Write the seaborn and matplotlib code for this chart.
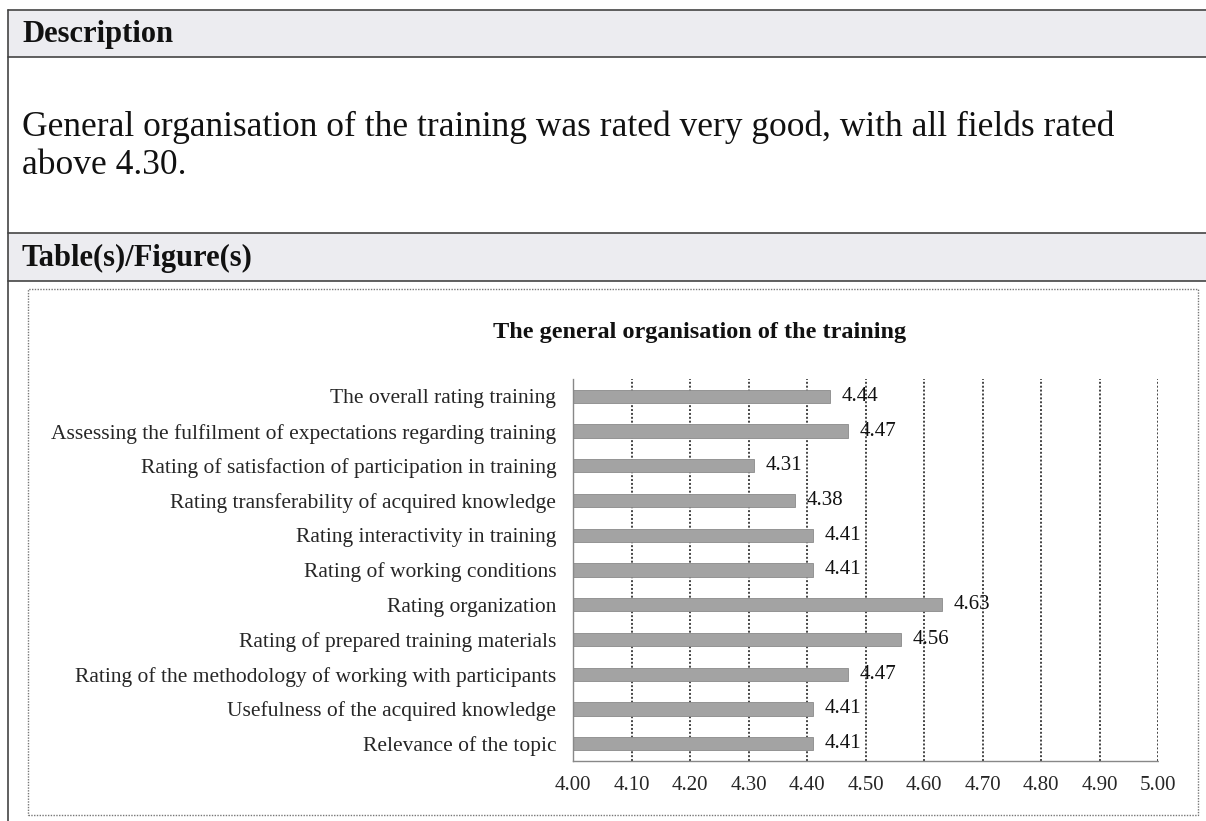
import pandas as pd
import seaborn as sns
import matplotlib
matplotlib.use("Agg")
import matplotlib.pyplot as plt
import matplotlib.ticker as ticker
from matplotlib.patches import Rectangle
from matplotlib.lines import Line2D

# data
categories = [
    "The overall rating training",
    "Assessing the fulfilment of expectations regarding training",
    "Rating of satisfaction of participation in training",
    "Rating transferability of acquired knowledge",
    "Rating interactivity in training",
    "Rating of working conditions",
    "Rating organization",
    "Rating of prepared training materials",
    "Rating of the methodology of working with participants",
    "Usefulness of the acquired knowledge",
    "Relevance of the topic",
]
scores = [4.44, 4.47, 4.31, 4.38, 4.41, 4.41, 4.63, 4.56, 4.47, 4.41, 4.41]
x_ticks = [4.00, 4.10, 4.20, 4.30, 4.40, 4.50, 4.60, 4.70, 4.80, 4.90, 5.00]

df = pd.DataFrame({"category": categories, "score": scores})

sns.set_style("white")
plt.rcParams["font.family"] = ["Liberation Serif", "DejaVu Serif"]

W, H = 1206, 821
fig = plt.figure(figsize=(W / 100, H / 100), dpi=100)


def px(x, y):
    return x / W, 1 - y / H


# document frame: header bands and borders
for top, bot, label in [(10, 57, "Description"), (233, 281, "Table(s)/Figure(s)")]:
    fig.patches.append(Rectangle(px(8, bot), (W - 8) / W, (bot - top) / H,
                                 transform=fig.transFigure, facecolor="#ececf0",
                                 edgecolor="none", zorder=0))
    for yy in (top, bot):
        fig.lines.append(Line2D([8 / W, 1], [1 - yy / H] * 2, transform=fig.transFigure,
                                color="#444444", lw=1.2))
    fig.text(22 / W, 1 - (top + bot + 2) / 2 / H, label, fontsize=22, fontweight="bold",
             va="center", ha="left", color="#111111")
fig.lines.append(Line2D([8 / W] * 2, [1 - 10 / H, 0], transform=fig.transFigure,
                        color="#444444", lw=1.2))

fig.text(22 / W, 1 - 127 / H,
         "General organisation of the training was rated very good, with all fields rated",
         fontsize=25.5, va="center", ha="left", color="#111111")
fig.text(22 / W, 1 - 165 / H, "above 4.30.", fontsize=25.5, va="center", ha="left",
         color="#111111")

# dotted chart box
fig.patches.append(Rectangle(px(28, 815), (1198 - 28) / W, (815 - 289) / H,
                             transform=fig.transFigure, facecolor="none",
                             edgecolor="#777777", lw=1.0, ls=(0, (1, 1))))

fig.text(700 / W, 1 - 332 / H, "The general organisation of the training",
         fontsize=17.5, fontweight="bold", ha="center", va="center", color="#111111")

ax = fig.add_axes([573 / W, 1 - 761 / H, (1158 - 573) / W, (761 - 379) / H])
sns.barplot(data=df, y="category", x="score", orient="h", ax=ax, color="#a3a3a3",
            width=0.38, edgecolor="#8a8a8a", linewidth=0.6, saturation=1)

ax.set_xlim(4.0, 5.0)
ax.set_xticks(x_ticks)
ax.xaxis.set_major_formatter(ticker.FormatStrFormatter("%.2f"))
ax.set_xlabel("")
ax.set_ylabel("")
ax.grid(axis="x", color="#444444", ls=(0, (1, 1)), lw=1.4)
ax.set_axisbelow(True)
for s in ["top", "right"]:
    ax.spines[s].set_visible(False)
for s in ["left", "bottom"]:
    ax.spines[s].set_color("#888888")
    ax.spines[s].set_linestyle((0, (1, 1)))
    ax.spines[s].set_linewidth(1.0)

ax.tick_params(axis="x", length=5, color="#888888", labelsize=15, pad=6)
ax.tick_params(axis="y", length=0, labelsize=15.5, pad=12)
ax.yaxis.set_minor_locator(ticker.FixedLocator([i + 0.5 for i in range(-1, len(categories))]))
ax.tick_params(axis="y", which="minor", length=4, color="#888888")

for i, v in enumerate(scores):
    ax.text(v + 0.02, i, f"{v:.2f}", va="center", ha="left", fontsize=15, color="#111111")

fig.savefig("out.png", dpi=100)
